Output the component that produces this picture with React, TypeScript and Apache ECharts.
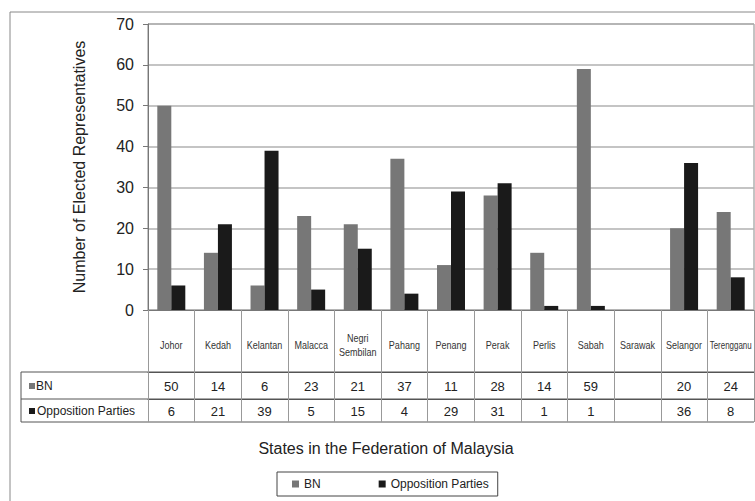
import React, { useEffect, useRef } from "react";
import * as echarts from "echarts";

const states = ["Johor", "Kedah", "Kelantan", "Malacca", "Negri\nSembilan", "Pahang", "Penang", "Perak", "Perlis", "Sabah", "Sarawak", "Selangor", "Terengganu"];
const bnValues: (number | null)[] = [50, 14, 6, 23, 21, 37, 11, 28, 14, 59, null, 20, 24];
const oppValues: (number | null)[] = [6, 21, 39, 5, 15, 4, 29, 31, 1, 1, null, 36, 8];
const seriesNames = ["BN", "Opposition Parties"];
const yTicks = { min: 0, max: 70, interval: 10 };

const BN_COLOR = "#777777";
const OPP_COLOR = "#1a1a1a";
const FONT = "Liberation Sans, Arial, Helvetica, sans-serif";

export default function App() {
  const ref = useRef<HTMLDivElement>(null);
  useEffect(() => {
    if (!ref.current) return;
    const chart = echarts.init(ref.current, undefined, { renderer: "svg" });
    const toText = (v: number | null) => (v == null ? "" : String(v));
    const tableAxis = (data: string[], offset: number, tickLen: number, margin: number) => ({
      type: "category",
      gridIndex: 0,
      position: "bottom",
      offset,
      data,
      boundaryGap: true,
      axisLine: { show: true, lineStyle: { color: "#555", width: 1 } },
      axisTick: { show: true, interval: 0, length: tickLen, lineStyle: { color: "#999", width: 1 } },
      axisLabel: { interval: 0, margin, verticalAlign: "middle", color: "#222", fontSize: 13, fontFamily: FONT },
      splitLine: { show: false },
    });
    const baseGraphic: any[] = [
      { type: "rect", shape: { x: 10, y: 12, width: 800, height: 600 }, style: { fill: "none", stroke: "#888", lineWidth: 1 }, silent: true },
      { type: "line", shape: { x1: 21, y1: 372, x2: 754, y2: 372 }, style: { stroke: "#555", lineWidth: 1 } },
      { type: "line", shape: { x1: 21, y1: 399, x2: 754, y2: 399 }, style: { stroke: "#555", lineWidth: 1 } },
      { type: "line", shape: { x1: 21, y1: 422, x2: 754, y2: 422 }, style: { stroke: "#555", lineWidth: 1 } },
      { type: "line", shape: { x1: 21, y1: 372, x2: 21, y2: 422 }, style: { stroke: "#555", lineWidth: 1 } },
      { type: "rect", shape: { x: 29, y: 383, width: 6, height: 6 }, style: { fill: BN_COLOR } },
      { type: "text", x: 36, y: 386, style: { text: seriesNames[0], fontSize: 12, fill: "#222", fontFamily: FONT, verticalAlign: "middle" } },
      { type: "rect", shape: { x: 29, y: 408, width: 6, height: 6 }, style: { fill: OPP_COLOR } },
      { type: "text", x: 37, y: 411, style: { text: seriesNames[1], fontSize: 12, fill: "#222", fontFamily: FONT, verticalAlign: "middle" } },
      { type: "text", x: 386, y: 448, style: { text: "States in the Federation of Malaysia", fontSize: 16, fill: "#222", fontFamily: FONT, align: "center", verticalAlign: "middle" } },
    ];
    chart.setOption({
      animation: false,
      backgroundColor: "#ffffff",
      textStyle: { fontFamily: FONT },
      grid: { left: 148, top: 24, right: 1, bottom: 191, show: true, borderColor: "#888", borderWidth: 1 },
      legend: {
        data: seriesNames,
        left: 277,
        top: 472,
        orient: "horizontal",
        icon: "rect",
        itemWidth: 7,
        itemHeight: 7,
        itemGap: 58,
        padding: [6, 9, 6, 15],
        borderColor: "#444",
        borderWidth: 1,
        textStyle: { fontSize: 12, color: "#222", fontFamily: FONT },
      },
      xAxis: [
        {
          type: "category",
          gridIndex: 0,
          position: "bottom",
          offset: 0,
          data: states,
          boundaryGap: true,
          axisLine: { show: true, lineStyle: { color: "#777", width: 1 } },
          axisTick: { show: true, interval: 0, length: 62, lineStyle: { color: "#999", width: 1 } },
          axisLabel: { show: false },
          splitLine: { show: false },
        },
        tableAxis(bnValues.map(toText), 62, 27, 14),
        tableAxis(oppValues.map(toText), 89, 23, 12),
      ],
      yAxis: {
        type: "value",
        min: yTicks.min,
        max: yTicks.max,
        interval: yTicks.interval,
        name: "Number of Elected Representatives",
        nameLocation: "middle",
        nameGap: 61,
        nameTextStyle: { fontSize: 16, color: "#222", fontFamily: FONT },
        axisLine: { show: true, lineStyle: { color: "#777", width: 1 } },
        axisTick: { show: true, length: 5, lineStyle: { color: "#777" } },
        axisLabel: { margin: 14, fontSize: 16, color: "#222", fontFamily: FONT },
        splitLine: { show: true, lineStyle: { color: "#b0b0b0", width: 1.5 } },
      },
      series: [
        { name: seriesNames[0], type: "bar", xAxisIndex: 0, data: bnValues, barWidth: 14, barGap: "0%", itemStyle: { color: BN_COLOR } },
        { name: seriesNames[1], type: "bar", xAxisIndex: 0, data: oppValues, barWidth: 14, barGap: "0%", itemStyle: { color: OPP_COLOR } },
      ],
      graphic: baseGraphic,
    });

    // Condensed state-name labels, placed at the category axis' own positions
    const ctx = document.createElement("canvas").getContext("2d");
    const fontSize = 11;
    if (ctx) ctx.font = `${fontSize}px ${FONT}`;
    const y0 = chart.convertToPixel({ yAxisIndex: 0 }, 0) as number;
    const labels = states.map((s, i) => {
      const x = chart.convertToPixel({ xAxisIndex: 0 }, i) as number;
      const w = Math.max(...s.split("\n").map((line) => (ctx ? ctx.measureText(line).width : line.length * 6)));
      const scale = Math.min(0.82, 42 / w);
      return {
        type: "text",
        x,
        y: y0 + 35,
        scaleX: scale,
        silent: true,
        style: { text: s, fontSize, lineHeight: 14, fill: "#333", fontFamily: FONT, align: "center", verticalAlign: "middle" },
      };
    });
    chart.setOption({ graphic: [...baseGraphic, ...labels] });
    return () => chart.dispose();
  }, []);
  return <div ref={ref} style={{ width: 755, height: 501, position: "absolute", left: 0, top: 0 }} />;
}
